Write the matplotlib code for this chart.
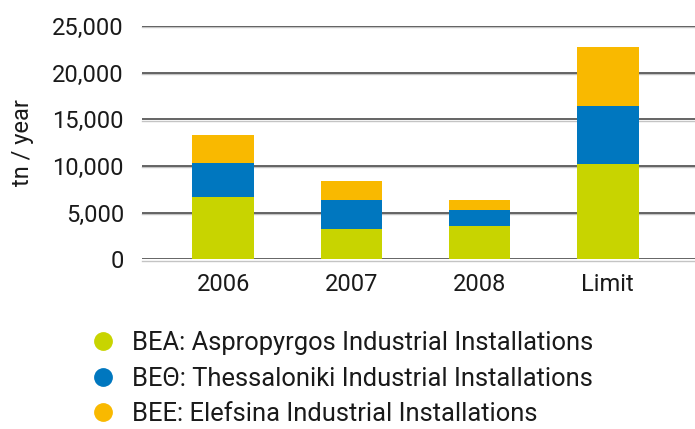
import matplotlib
matplotlib.use("Agg")
import matplotlib.pyplot as plt
from matplotlib.lines import Line2D
from matplotlib.ticker import FuncFormatter
from matplotlib.transforms import offset_copy

categories = ["2006", "2007", "2008", "Limit"]
bea = [6700, 3220, 3540, 10230]
bet = [3650, 3160, 1700, 6250]
bee = [2950, 1960, 1140, 6270]
series_labels = ["BEA: Aspropyrgos Industrial Installations",
                 "BEΘ: Thessaloniki Industrial Installations",
                 "BEE: Elefsina Industrial Installations"]
colors = ["#C8D400", "#0077BF", "#F9B900"]
yticks = [0, 5000, 10000, 15000, 20000, 25000]

plt.rcParams['font.family'] = ['Roboto', 'DejaVu Sans']

fig = plt.figure(figsize=(6.95, 4.29), dpi=100)
ax = fig.add_axes([142/695, 1-259.3/429, 1-142/695, (259.3-26)/429])

x = list(range(len(categories)))
w = 0.48
bottom = [0]*len(categories)
for vals, c in zip([bea, bet, bee], colors):
    ax.bar(x, vals, width=w, bottom=bottom, color=c, zorder=3, linewidth=0)
    bottom = [b+v for b, v in zip(bottom, vals)]

ax.set_xlim(-0.633, 3.68)
ax.set_ylim(0, 25000)
ax.set_yticks(yticks)
ax.yaxis.set_major_formatter(FuncFormatter(lambda v, p: f"{int(v):,}"))
ax.set_xticks(x)
ax.set_xticklabels(categories)
shadow = offset_copy(ax.get_yaxis_transform(), fig=fig, x=0, y=-1.2, units='dots')
for y in yticks:
    ax.plot([0, 1], [y, y], color="#C4C4C4", lw=1.0, zorder=1, transform=shadow, clip_on=False)
ax.grid(axis='y', color="#3a3a3a", lw=1.1, zorder=2)
ax.set_axisbelow(False)
for s in ax.spines.values():
    s.set_visible(False)
ax.tick_params(axis='both', length=0, labelsize=17, colors="#1a1a1a")
ax.tick_params(axis='y', pad=13)
ax.tick_params(axis='x', pad=10)
ax.set_ylabel("tn / year", fontsize=17, color="#1a1a1a", labelpad=13)

handles = [Line2D([], [], marker='o', linestyle='none', markersize=12.5,
                  markerfacecolor=c, markeredgecolor=c) for c in colors]
fig.legend(handles, series_labels, loc='upper left', bbox_to_anchor=(88/695, 1-331/429),
           frameon=False, fontsize=18.4, labelspacing=0.45, handletextpad=0.52,
           borderaxespad=0, borderpad=0, labelcolor="#1a1a1a", handlelength=1.2)

fig.savefig("out.png", dpi=100)
